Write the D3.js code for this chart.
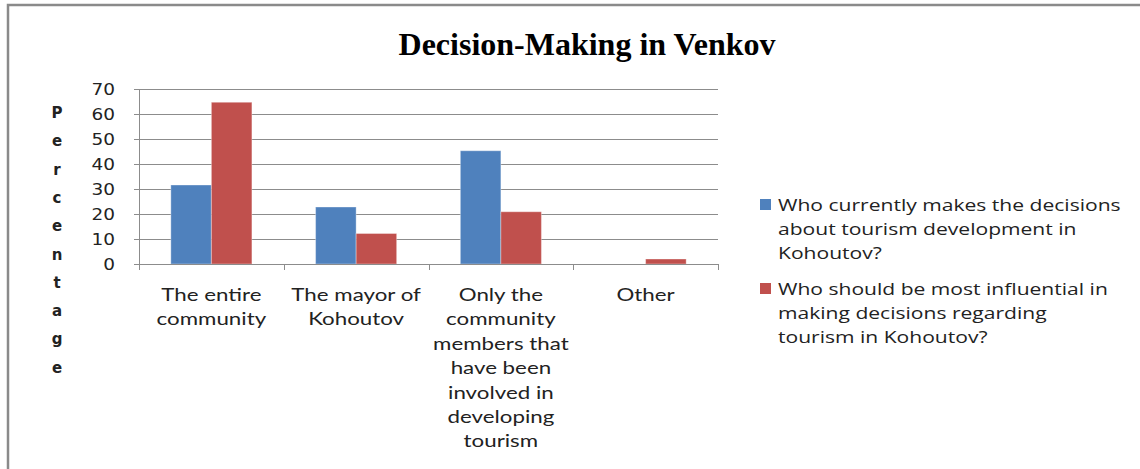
<!DOCTYPE html>
<html>
<head>
<meta charset="utf-8">
<script src="https://cdn.jsdelivr.net/npm/d3@7"></script>
<style>
  body { margin: 0; background: #fff; }
  svg { display: block; }
</style>
</head>
<body>
<script>
// data
const categories = [
  ["The entire", "community"],
  ["The mayor of", "Kohoutov"],
  ["Only the", "community", "members that", "have been", "involved in", "developing", "tourism"],
  ["Other"]
]
const seriesNames = [
  ["Who currently makes the decisions", "about tourism development in", "Kohoutov?"],
  ["Who should be most influential in", "making decisions regarding", "tourism in Kohoutov?"]
]
const currentValues = [31.6, 22.8, 45.3, 0]
const shouldValues = [64.7, 12.2, 20.9, 2.0]
const yTicks = [0, 10, 20, 30, 40, 50, 60, 70]
const colors = ["#4F81BD", "#C0504D"]

const width = 1140, height = 469
const margin = { top: 89, left: 139, right: 422, bottom: 205 }
const boundedWidth = width - margin.left - margin.right
const boundedHeight = height - margin.top - margin.bottom

// the reference text is drawn a bit wide, so stretch it sideways
const stretch = 1.24

const svg = d3.select("body").append("svg")
  .attr("width", width)
  .attr("height", height)

// outer frame (only top and left edges visible)
svg.append("path")
  .attr("d", `M8,${height} L8,5 L${width},5`)
  .attr("fill", "none")
  .attr("stroke", "#8a8a8a")
  .attr("stroke-width", 2.5)

svg.append("text")
  .attr("x", 587)
  .attr("y", 55)
  .attr("text-anchor", "middle")
  .style("font-family", "Liberation Serif")
  .style("font-weight", "bold")
  .style("font-size", "32px")
  .text("Decision-Making in Venkov")

const bounds = svg.append("g")
  .attr("transform", `translate(${margin.left},${margin.top})`)

const keys = categories.map((c, i) => i)
const xScale = d3.scaleBand()
  .domain(keys)
  .range([0, boundedWidth])
  .paddingInner(0.44)
  .paddingOuter(0.22)

const xSub = d3.scaleBand()
  .domain([0, 1])
  .range([0, xScale.bandwidth()])

const yScale = d3.scaleLinear()
  .domain([0, 70])
  .range([boundedHeight, 0])

// gridlines
bounds.append("g")
  .selectAll("line")
  .data(yTicks.filter(d => d > 0))
  .join("line")
  .attr("x1", 0)
  .attr("x2", boundedWidth)
  .attr("y1", d => Math.round(yScale(d)) + 0.5)
  .attr("y2", d => Math.round(yScale(d)) + 0.5)
  .attr("stroke", "#8c8c8c")

// bars
const table = keys.map(i => [currentValues[i], shouldValues[i]])
bounds.append("g")
  .selectAll("g")
  .data(table)
  .join("g")
  .attr("transform", (d, i) => `translate(${xScale(i)},0)`)
  .selectAll("rect")
  .data(d => d.map((v, s) => ({ v, s })))
  .join("rect")
  .attr("x", d => xSub(d.s))
  .attr("width", xSub.bandwidth())
  .attr("y", d => yScale(d.v))
  .attr("height", d => boundedHeight - yScale(d.v))
  .attr("fill", d => colors[d.s])
  .attr("stroke", d => d.v > 0 ? "rgba(255,255,255,0.35)" : "none")
  .attr("stroke-width", 1)

// y axis
const yAxis = bounds.append("g")
  .call(d3.axisLeft(yScale).tickValues(yTicks).tickSize(5).tickPadding(19))
yAxis.selectAll("path, line").attr("stroke", "#8c8c8c")
yAxis.select(".domain").attr("d", `M-5,${boundedHeight + 0.5}H0.5V0.5H-5`)
yAxis.selectAll("text")
  .style("font-family", "DejaVu Sans")
  .style("font-size", "16.5px")
  .attr("fill", "#222")
  .attr("transform", "scale(1.12,1)")
  .attr("x", -24 / 1.12)

// x axis
const xAxis = bounds.append("g")
  .attr("transform", `translate(0,${boundedHeight})`)
const edges = d3.range(keys.length + 1).map(i => i * boundedWidth / keys.length)
xAxis.append("line")
  .attr("x1", 0).attr("x2", boundedWidth)
  .attr("y1", 0.5).attr("y2", 0.5)
  .attr("stroke", "#8c8c8c")
xAxis.selectAll(".tick")
  .data(edges)
  .join("line")
  .attr("class", "tick")
  .attr("x1", d => Math.round(d) + 0.5)
  .attr("x2", d => Math.round(d) + 0.5)
  .attr("y1", 0)
  .attr("y2", 6)
  .attr("stroke", "#8c8c8c")

xAxis.selectAll(".cat")
  .data(categories)
  .join("text")
  .attr("class", "cat")
  .attr("text-anchor", "middle")
  .attr("transform", (d, i) => `translate(${xScale(i) + xScale.bandwidth() / 2},37) scale(${stretch},1)`)
  .style("font-family", "Lato")
  .style("font-size", "18px")
  .attr("fill", "#222")
  .selectAll("tspan")
  .data(d => d)
  .join("tspan")
  .attr("x", 0)
  .attr("y", (d, i) => i * 24.4)
  .text(d => d)

// y axis title, one letter per line
svg.append("text")
  .attr("text-anchor", "middle")
  .style("font-family", "DejaVu Sans")
  .style("font-weight", "bold")
  .style("font-size", "15px")
  .attr("fill", "#222")
  .selectAll("tspan")
  .data("Percentage".split(""))
  .join("tspan")
  .attr("x", 57)
  .attr("y", (d, i) => 118 + i * 28.3)
  .text(d => d)

// legend
const legend = svg.append("g")
  .attr("transform", "translate(760,199)")
const entry = legend.selectAll("g")
  .data(seriesNames)
  .join("g")
  .attr("transform", (d, i) => `translate(0,${i * 84})`)
entry.append("rect")
  .attr("width", 11)
  .attr("height", 11)
  .attr("fill", (d, i) => colors[i])
entry.append("text")
  .attr("transform", `translate(18,0) scale(${stretch},1)`)
  .style("font-family", "Open Sans")
  .style("font-size", "17px")
  .attr("fill", "#222")
  .selectAll("tspan")
  .data(d => d)
  .join("tspan")
  .attr("x", 0)
  .attr("y", (d, i) => 12 + i * 24.2)
  .text(d => d)
</script>
</body>
</html>
